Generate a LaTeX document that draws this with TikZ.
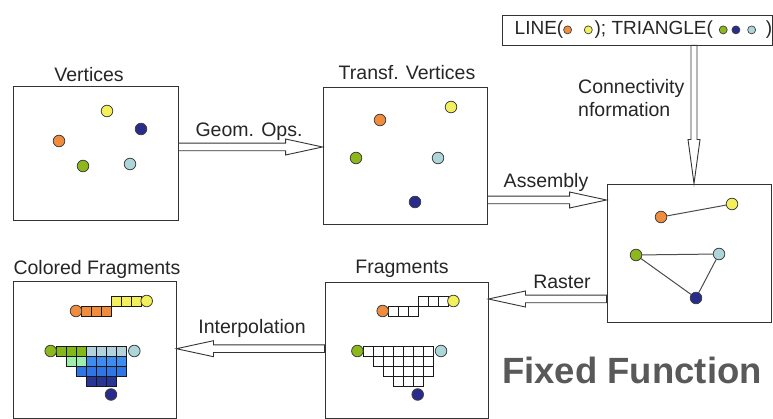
\documentclass[tikz,border=0pt]{standalone}
\usepackage{fontspec}
\setmainfont{Liberation Sans}
\usetikzlibrary{calc}
\definecolor{vorange}{RGB}{240,140,62}
\definecolor{vyellow}{RGB}{244,240,92}
\definecolor{vnavy}{RGB}{40,44,140}
\definecolor{vgreen}{RGB}{140,184,28}
\definecolor{vcyan}{RGB}{172,214,216}
\definecolor{fgreen}{RGB}{132,184,24}
\definecolor{fgrey}{RGB}{180,210,222}
\definecolor{fmint}{RGB}{158,238,172}
\definecolor{fblue}{RGB}{62,140,240}
\definecolor{fmid}{RGB}{46,118,230}
\definecolor{fdark}{RGB}{40,54,150}
\definecolor{ffgrey}{RGB}{89,89,89}
\newcommand\vdot[1]{\tikz[baseline=-0.5ex]\draw[line width=0.7pt,draw=black!75,fill=#1] (0,0) circle (4pt);}

\begin{document}
\begin{tikzpicture}[x=1pt, y=-1pt,
	stage/.style={shape=rectangle, draw=black!80, line width=0.9pt, inner sep=0pt},
	caption/.style={anchor=base, inner sep=0pt, text=black!85, font=\fontsize{19.5}{23.3}\selectfont},
	vert/.style={shape=circle, draw=black!75, line width=0.8pt, minimum size=11.6pt, inner sep=0pt},
	dotline/.style={draw=black!75, line width=0.8pt},
	edge/.style={draw=black!70, line width=1pt},
	cell/.style={draw=black!90, line width=0.7pt},
	plain/.style={cell/.append style={fill=white}},
	colored/.style={},
	hollow/.style n args={3}{draw=black!80, line width=0.9pt, fill=white, to path={let \p1=(\tikztostart), \p2=(\tikztotarget), \p3=($(\p2)!#3!(\p1)$) in
		($(\p1)!#1!90:(\p2)$) -- ($(\p3)!#1!-90:(\p1)$) -- ($(\p3)!#2!-90:(\p1)$) -- (\p2) -- ($(\p3)!#2!90:(\p1)$) -- ($(\p3)!#1!90:(\p1)$) -- ($(\p1)!#1!-90:(\p2)$) -- cycle}}]
	\useasboundingbox[fill=white] (0,0) rectangle (773,419);

	\node (vbox) at (95.5,153) [stage, minimum width=165pt, minimum height=134pt] {};
	\node (tbox) at (405,155.5) [stage, minimum width=164pt, minimum height=137pt] {};
	\node (rbox) at (689,253) [stage, minimum width=164pt, minimum height=138pt] {};
	\node (cbox) at (94.5,349.5) [stage, minimum width=163pt, minimum height=137pt] {};
	\node (fbox) at (406.5,350) [stage, minimum width=163pt, minimum height=136pt] {};
	\node (spec) at (637.5,30) [stage, minimum width=269pt, minimum height=30pt, text=black!85, font=\fontsize{19}{23}\selectfont]
		{\hspace*{12pt}LINE(\vdot{vorange}\hspace{12pt}\vdot{vyellow}\hspace{2pt}); TRIANGLE(\hspace{6pt}\vdot{vgreen}\hspace{4pt}\vdot{vnavy}\hspace{7pt}\vdot{vcyan}\hspace{10pt})};

	\node (vcap) at (89,81.7) [caption] {Vertices};
	\node (tcap) at (407,80) [caption] {Transf. Vertices};
	\node (ccap) at (97,275) [caption] {Colored Fragments};
	\node (fcap) at (402,274) [caption] {Fragments};
	\node (geom) at (249,136.7) [caption] {Geom. Ops.};
	\node (asm) at (546,187.3) [caption] {Assembly};
	\node (rast) at (562,288.3) [caption] {Raster};
	\node (interp) at (252,333.3) [caption] {Interpolation};
	\node (conn) at (578,116.7) [caption, anchor=base west, align=left] {Connectivity\\nformation};
	\node (fixed) at (632,383.3) [anchor=base, inner sep=0pt, text=ffgrey, font=\fontsize{36.5}{40}\selectfont\bfseries] {Fixed Function};

	\foreach \n/\x/\y/\c in {y/107/111/vyellow, n/141/129/vnavy, o/59/141/vorange, g/83/166/vgreen, c/130/164/vcyan}
		\node (v\n) at (\x,\y) [vert, fill=\c] {};
	\foreach \n/\x/\y/\c in {y/451/107/vyellow, o/380/120/vorange, g/356/158/vgreen, c/438/158/vcyan, n/415/202/vnavy}
		\node (t\n) at (\x,\y) [vert, fill=\c] {};
	\foreach \n/\x/\y/\c in {o/661/217/vorange, y/732/204/vyellow, g/636/255/vgreen, c/719/254/vcyan, n/696/298/vnavy}
		\node (r\n) at (\x,\y) [vert, fill=\c] {};
	\draw[edge] (ro) -- (ry);
	\draw[edge] (rg) -- (rc) -- (rn) -- (rg);

	\foreach \sx/\look in {0/colored, 306.7/plain} {
		\begin{scope}[shift={(56.7+\sx,346)}, \look]
			\foreach \i in {5.5,6.5,7.5} \draw[fill=vyellow, cell] (\i*10,-50) rectangle ++(10,10);
			\foreach \i in {2.5,3.5,4.5} \draw[fill=vorange, cell] (\i*10,-40) rectangle ++(10,10);
			\foreach \i in {0,1,2} \draw[fill=fgreen, cell] (\i*10,0) rectangle ++(10,10);
			\foreach \i in {3,...,6} \draw[fill=fgrey, cell] (\i*10,0) rectangle ++(10,10);
			\foreach \i in {1,2} \draw[fill=fmint, cell] (\i*10,10) rectangle ++(10,10);
			\foreach \i in {3,...,6} \draw[fill=fblue, cell] (\i*10,10) rectangle ++(10,10);
			\foreach \i in {2,...,6} \draw[fill=fmid, cell] (\i*10,20) rectangle ++(10,10);
			\foreach \i in {3,4,5} \draw[fill=fdark, cell] (\i*10,30) rectangle ++(10,10);
			\draw[dotline, fill=vorange] (19.3,-35) circle (5.8pt);
			\draw[dotline, fill=vyellow] (90,-45) circle (5.8pt);
			\draw[dotline, fill=vgreen] (-6,5) circle (5.8pt);
			\draw[dotline, fill=vcyan] (77.6,5) circle (5.8pt);
			\draw[dotline, fill=vnavy] (54.3,48.5) circle (5.8pt);
		\end{scope}
	}

	\coordinate (gs) at ([yshift=6pt]vbox.east);
	\coordinate (as) at ([yshift=-44.5pt]tbox.east);
	\coordinate (rs) at ([yshift=-46pt]rbox.west);
	\coordinate (is) at ([yshift=1.3pt]fbox.west);
	\coordinate (cs) at ([xshift=56.5pt]spec.south);
	\draw[hollow={3.8pt}{8pt}{37pt}] (gs) to (gs -| tbox.west);
	\draw[hollow={3.8pt}{8pt}{37pt}] (as) to (as -| rbox.west);
	\draw[hollow={3.8pt}{8pt}{37pt}] (rs) to (rs -| fbox.east);
	\draw[hollow={3.8pt}{8pt}{37pt}] (is) to (is -| cbox.east);
	\draw[hollow={3pt}{6pt}{44pt}] (cs) to (cs |- rbox.north);
\end{tikzpicture}
\end{document}
